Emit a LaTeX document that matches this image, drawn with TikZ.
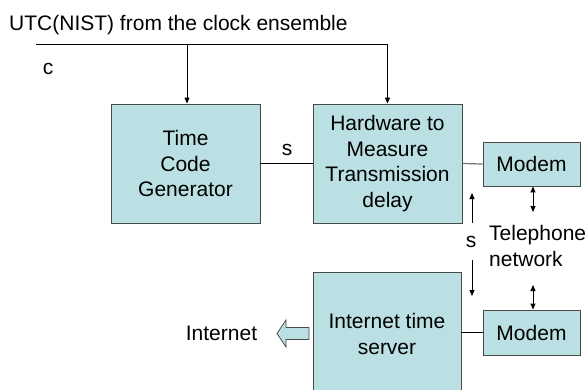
\documentclass[tikz,border=0pt]{standalone}
\usepackage{fontspec}
\setmainfont{Liberation Sans}
\usetikzlibrary{arrows.meta}
\definecolor{boxfill}{HTML}{BBE0E3}
\definecolor{boxedge}{HTML}{4A4A4A}
\tikzset{
  blk/.style={draw=boxedge, line width=0.9pt, fill=boxfill, align=center,
    inner sep=0pt, font=\fontsize{21}{25.5}\selectfont},
  lbl/.style={inner sep=0pt, font=\fontsize{21}{25.5}\selectfont},
  wire/.style={draw=black, line width=0.9pt},
  sig/.style={wire, -{Triangle[length=6pt,width=5pt]}},
  both/.style={wire, {Triangle[length=6pt,width=5pt]}-{Triangle[length=6pt,width=5pt]}}
}
\begin{document}
\begin{tikzpicture}[x=1pt, y=-1pt]
\useasboundingbox (0,0) rectangle (587,389);

% title and clock feed
\node[lbl, anchor=base west] (title) at (9,30) {UTC(NIST) from the clock ensemble};
\node[lbl] (c) at (48,69) {c};
\coordinate (feedL) at (36,44);
\coordinate (feedA) at (187,44);
\coordinate (feedB) at (387.5,44);

% blocks
\node[blk, minimum width=149pt, minimum height=119pt] (tcg) at (185.5,163.5) {Time\\Code\\Generator};
\node[blk, minimum width=149pt, minimum height=119pt] (hw) at (387.5,163.5) {Hardware to\\Measure\\Transmission\\delay};
\node[blk, minimum width=97pt, minimum height=44pt] (modemA) at (531.5,164) {Modem};
\node[blk, minimum width=148pt, minimum height=124pt] (srv) at (387,334) {Internet time\\server};
\node[blk, minimum width=97pt, minimum height=45pt] (modemB) at (531.5,332.5) {Modem};

% clock distribution
\draw[wire] (feedL) -- (feedB);
\draw[sig] (feedA) -- (tcg.north -| feedA);
\draw[sig] (feedB) -- (hw.north);

% links between blocks
\draw[wire] (tcg.east) -- (hw.west);
\node[lbl] (s1) at (287,150) {s};
\draw[draw=black!55, line width=1.2pt] (hw.east) -- (modemA.west);
\draw[wire] (srv.east |- modemB.west) -- (modemB.west);

% telephone network
\coordinate (upA) at (472,223);
\coordinate (upB) at (472,193);
\coordinate (dnA) at (472,260);
\coordinate (dnB) at (472,296);
\draw[sig] (upA) -- (upB);
\draw[sig] (dnA) -- (dnB);
\node[lbl] (s2) at (471,242) {s};
\node[lbl, anchor=west, align=left] (tel) at (489,246) {Telephone\\network};
\coordinate (tA) at (533,212);
\coordinate (tB) at (533,285);
\draw[both] (modemA.south -| tA) -- (tA);
\draw[both] (tB) -- (modemB.north -| tB);

% internet output
\draw[draw=boxedge, line width=0.8pt, fill=boxfill]
  (309,327.5) -- (286,327.5) -- (286,320) -- (277,333.5) -- (286,347) -- (286,339.5) -- (309,339.5) -- cycle;
\node[lbl] (inet) at (221.5,333) {Internet};
\end{tikzpicture}
\end{document}
